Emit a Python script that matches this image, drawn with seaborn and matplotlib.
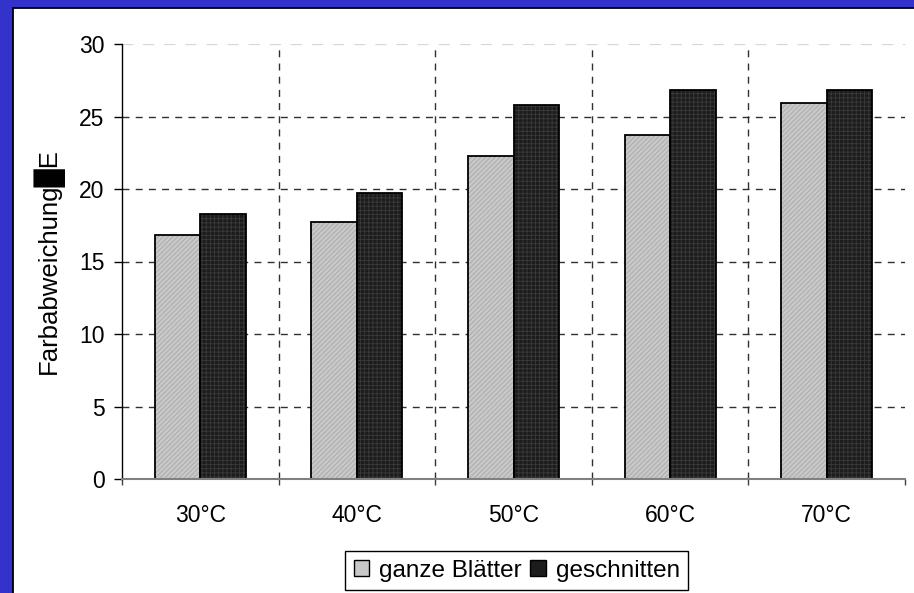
import matplotlib
matplotlib.use("Agg")
import matplotlib.pyplot as plt
import seaborn as sns
import pandas as pd
from matplotlib.patches import Rectangle, Patch

# Colour deviation per drying temperature
temperatures = ["30°C", "40°C", "50°C", "60°C", "70°C"]
series_names = ["ganze Blätter", "geschnitten"]
ganze_blaetter = [16.8, 17.7, 22.3, 23.7, 25.9]
geschnitten = [18.3, 19.7, 25.8, 26.8, 26.8]
y_ticks = [0, 5, 10, 15, 20, 25, 30]
y_label = "Farbabweichung█E"

sns.set_style("white")
plt.rcParams["font.family"] = ["Liberation Sans", "DejaVu Sans"]
plt.rcParams["hatch.linewidth"] = 0.6
plt.rcParams["text.color"] = "black"
plt.rcParams["axes.labelcolor"] = "black"
plt.rcParams["xtick.color"] = "black"
plt.rcParams["ytick.color"] = "black"

df = pd.DataFrame({
    "Temperatur": temperatures * 2,
    "Probe": [series_names[0]] * len(temperatures) + [series_names[1]] * len(temperatures),
    "Wert": ganze_blaetter + geschnitten,
})

fills = {series_names[0]: "#c8c8c8", series_names[1]: "#1c1c1c"}
textures = [("///////", "#a8a8a8"), ("++++", "#3a3a3a")]

W, H = 914, 593
fig = plt.figure(figsize=(W / 100, H / 100), dpi=100, facecolor="#3333cc")
fig.add_artist(Rectangle((13 / W, -0.01), 1.0, 1 - 8 / H + 0.01,
                         transform=fig.transFigure, facecolor="white",
                         edgecolor="black", lw=1.3, zorder=-10))

ax = fig.add_axes([122 / W, 114 / H, (905 - 122) / W, (549 - 114) / H])
ax.set_facecolor("white")

sns.barplot(data=df, x="Temperatur", y="Wert", hue="Probe", palette=fills,
            width=0.58, saturation=1, edgecolor="black", linewidth=1,
            legend=False, ax=ax)

# textured fills with a black outline on top
for container, (hatch, hcol) in zip(ax.containers, textures):
    for bar in container:
        bar.set_hatch(hatch)
        bar.set_edgecolor(hcol)
        bar.set_linewidth(0)
        ax.add_patch(Rectangle(bar.get_xy(), bar.get_width(), bar.get_height(),
                               fill=False, edgecolor="black", lw=1.3,
                               zorder=bar.get_zorder() + 0.1))

ax.set_xlim(-0.5, len(temperatures) - 0.5)
ax.set_ylim(y_ticks[0], y_ticks[-1])
ax.set_yticks(y_ticks)
ax.set_xticks(range(len(temperatures)))
ax.set_xticklabels(temperatures)
ax.set_xticks([i - 0.5 for i in range(len(temperatures) + 1)], minor=True)
ax.set_xlabel("")
ax.set_ylabel(y_label, fontsize=18.5, color="black")
ax.yaxis.set_label_coords(-0.074, 0.5)

for s in ("top", "right"):
    ax.spines[s].set_visible(False)
ax.spines["left"].set_color("black")
ax.spines["left"].set_linewidth(1)
ax.spines["bottom"].set_color("#808080")
ax.spines["bottom"].set_linewidth(1.5)

ax.tick_params(axis="x", which="major", length=0, pad=18, labelsize=16.5, labelcolor="black")
ax.tick_params(axis="x", which="minor", length=4.5, width=1, color="#404040", direction="out", bottom=True)
ax.tick_params(axis="y", which="major", length=5.5, width=1, color="black", pad=7,
               labelsize=16.5, labelcolor="black", left=True, direction="out")

grid_style = dict(color="#303030", linestyle=(0, (5, 4.5)), linewidth=1)
ax.yaxis.grid(True, which="major", **grid_style)
ax.xaxis.grid(True, which="minor", **grid_style)
ax.xaxis.grid(False, which="major")
ax.set_axisbelow(True)

ygl = ax.get_ygridlines()
ygl[0].set_visible(False)
ygl[-1].set_color("#d6d6d6")
ygl[-1].set_linewidth(1.6)
minor_ticks = ax.xaxis.get_minor_ticks()
minor_ticks[0].gridline.set_visible(False)
minor_ticks[-1].gridline.set_visible(False)

handles = [Patch(facecolor=fills[n], edgecolor="black", linewidth=1) for n in series_names]
leg = fig.legend(handles, series_names, loc="upper left",
                 bbox_to_anchor=(345 / W, 1 - 551 / H), ncol=2, frameon=True,
                 fancybox=False, edgecolor="black", framealpha=1, fontsize=17.5,
                 handlelength=0.65, handleheight=0.65, handletextpad=0.4,
                 columnspacing=0.35, borderpad=0.35, borderaxespad=0)
leg.get_frame().set_linewidth(1)
for t in leg.get_texts():
    t.set_color("black")

fig.savefig("out.png", dpi=100, facecolor=fig.get_facecolor())
